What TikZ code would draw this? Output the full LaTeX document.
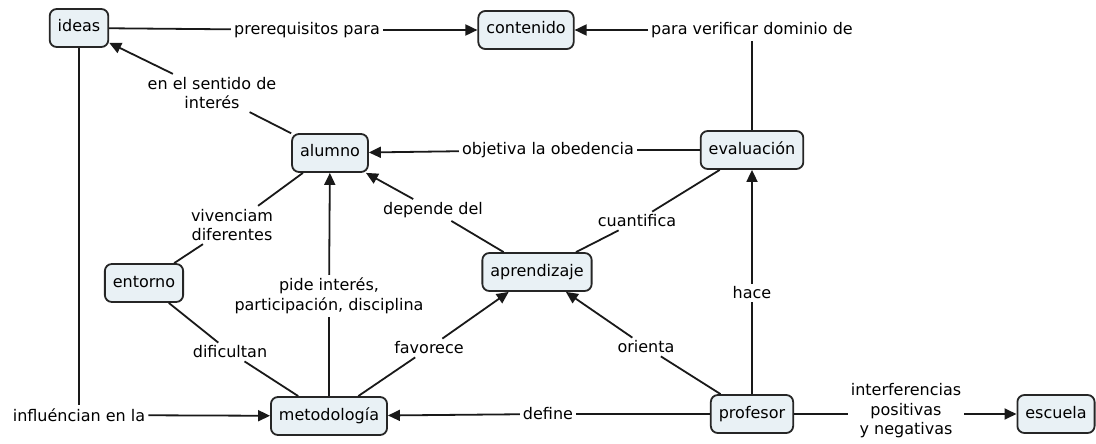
\documentclass[tikz,border=0pt]{standalone}
\usepackage{fontspec}
\setmainfont{DejaVu Sans}
\usetikzlibrary{arrows.meta}
\definecolor{cmapfill}{HTML}{E9F1F5}
\tikzset{
    concept/.style={rectangle, rounded corners=7pt, draw=black!85, line width=1.8pt, fill=cmapfill,
        inner xsep=8pt, minimum height=38pt, text height=12pt, text depth=4pt},
    phrase/.style={inner sep=3pt, align=center},
    link/.style={line width=1.8pt, draw=black!90},
    arr/.style={link, -{Triangle[length=12pt,width=11pt]}}
}

\begin{document}
\begin{tikzpicture}[x=1pt, y=-1pt, font=\fontsize{16}{19.5}\selectfont]
    \useasboundingbox (0,0) rectangle (1096,444);
    % concepts
    \node[concept] (ideas) at (79,28) {ideas};
    \node[concept] (contenido) at (526,30) {contenido};
    \node[concept] (alumno) at (330,153) {alumno};
    \node[concept] (evaluacion) at (752,150) {evaluación};
    \node[concept] (aprendizaje) at (537,272) {aprendizaje};
    \node[concept] (entorno) at (144,283) {entorno};
    \node[concept] (metodologia) at (329,416) {metodología};
    \node[concept] (profesor) at (752,414) {profesor};
    \node[concept] (escuela) at (1056,414) {escuela};
    % linking phrases
    \node[phrase] (prereq) at (307,30) {prerequisitos para};
    \node[phrase] (verif) at (752,30) {para verificar dominio de};
    \node[phrase] (sentido) at (212,93) {en el sentido de\\interés};
    \node[phrase] (objetiva) at (548,150) {objetiva la obedencia};
    \node[phrase] (vivenciam) at (232,225) {vivenciam\\diferentes};
    \node[phrase] (depende) at (433,210) {depende del};
    \node[phrase] (cuantifica) at (637,221) {cuantifica};
    \node[phrase] (pide) at (329,296) {pide interés,\\participación, disciplina};
    \node[phrase] (hace) at (752,293) {hace};
    \node[phrase] (dificultan) at (230,352) {dificultan};
    \node[phrase] (favorece) at (429,348) {favorece};
    \node[phrase] (orienta) at (646,347) {orienta};
    \node[phrase] (influ) at (79,415) {influéncian en la};
    \node[phrase] (define) at (548,414) {define};
    \node[phrase] (interf) at (906,411) {interferencias\\positivas\\y negativas};
    % connections
    \draw[link] (ideas) -- (prereq);
    \draw[arr] (prereq) -- (contenido);
    \draw[link] (evaluacion) -- (verif);
    \draw[arr] (verif) -- (contenido);
    \draw[link] (alumno) -- (sentido);
    \draw[arr] (sentido) -- (ideas);
    \draw[link] (evaluacion) -- (objetiva);
    \draw[arr] (objetiva) -- (alumno);
    \draw[link] (entorno) -- (vivenciam);
    \draw[link] (vivenciam) -- (alumno);
    \draw[link] (aprendizaje) -- (depende);
    \draw[arr] (depende) -- (alumno);
    \draw[link] (aprendizaje) -- (cuantifica);
    \draw[link] (cuantifica) -- (evaluacion);
    \draw[link] (metodologia) -- (pide);
    \draw[arr] (pide) -- (alumno);
    \draw[link] (profesor) -- (hace);
    \draw[arr] (hace) -- (evaluacion);
    \draw[link] (entorno) -- (dificultan);
    \draw[link] (dificultan) -- (metodologia);
    \draw[link] (metodologia) -- (favorece);
    \draw[arr] (favorece) -- (aprendizaje);
    \draw[link] (profesor) -- (orienta);
    \draw[arr] (orienta) -- (aprendizaje);
    \draw[link] (ideas) -- (influ);
    \draw[arr] (influ) -- (metodologia);
    \draw[link] (profesor) -- (define);
    \draw[arr] (define) -- (metodologia);
    \draw[link] (profesor.east) -- (profesor.east -| interf.west);
    \draw[arr] (interf.east |- escuela) -- (escuela.west);
\end{tikzpicture}
\end{document}
